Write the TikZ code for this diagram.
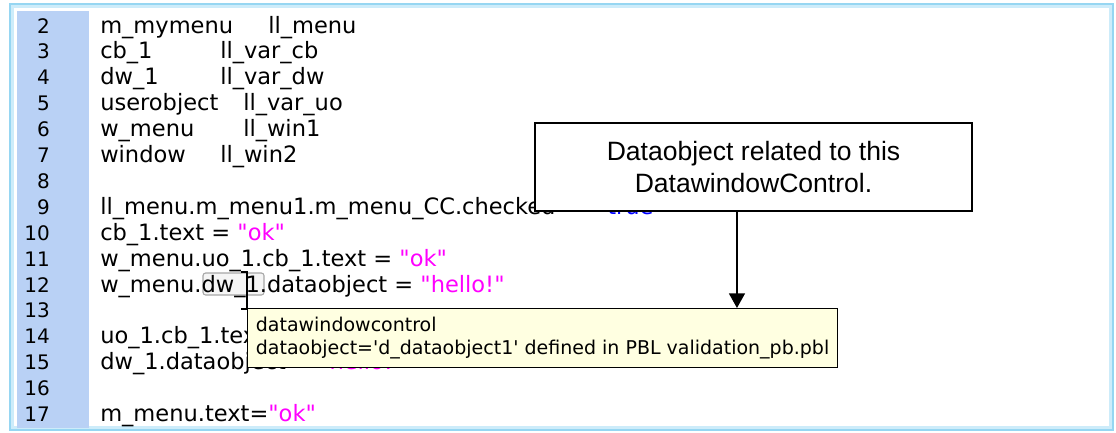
\documentclass[tikz,border=0pt]{standalone}
\usepackage{fontspec}
\setmainfont{DejaVu Sans}[Ligatures=TeXOff]
\newfontfamily\calloutfont{Liberation Sans}
\usetikzlibrary{arrows.meta}

\definecolor{frameblue}{RGB}{150,214,242}
\definecolor{frameglow}{RGB}{205,236,250}
\definecolor{gutter}{RGB}{185,209,245}
\definecolor{strmag}{RGB}{255,0,255}
\definecolor{kwblue}{RGB}{0,0,255}
\definecolor{tipfill}{RGB}{255,255,225}

% straight quotes, as typed in the editor
\newcommand{\dq}{\symbol{34}}
\newcommand{\sq}{\symbol{39}}
\newcommand{\str}[1]{\textcolor{strmag}{\dq#1\dq}}

\tikzset{
  num/.style={anchor=base east, inner sep=0pt, font=\fontsize{15}{18}\selectfont},
  code/.style={anchor=base west, inner sep=0pt, font=\fontsize{16.9}{20}\selectfont},
  tipbox/.style={draw=black, line width=0.8pt, fill=tipfill, anchor=north west,
    minimum width=442.5pt, minimum height=44.25pt, inner xsep=4.5pt, inner ysep=0pt,
    align=left, font=\fontsize{14.25}{17.25}\selectfont},
  callbox/.style={draw=black, line width=1.1pt, fill=white,
    minimum width=327.75pt, minimum height=66pt, align=center,
    font=\calloutfont\fontsize{19.9}{24}\selectfont},
  pointer/.style={line width=1.1pt, -{Triangle[width=12pt,length=11pt]}},
}

\begin{document}
\begin{tikzpicture}[x=0.75pt,y=-0.75pt]
\useasboundingbox (0,0) rectangle (1116,432);
\fill[white] (0,0) rectangle (1116,432);

% editor frame and line-number gutter
\draw[frameglow, line width=2.2pt] (12.5,6.5) rectangle (1110.5,427.5);
\draw[frameblue, line width=2.2pt] (10,4) rectangle (1113,430);
\fill[gutter] (17,11) rectangle (89,428);

% line numbers
\foreach \n in {2,...,17}
  \node[num] (n\n) at (50,{33+(\n-2)*25.9}) {\n};

% hover highlight around the identifier on line 12
\draw[rounded corners=2pt, draw=black!35, fill=black!4, line width=0.8pt]
  (203,273) rectangle (264,295);

% source lines
\node[code] (c2)  at (100,33)     {m\_mymenu};
\node[code] (c2b) at (268,33)     {ll\_menu};
\node[code] (c3)  at (100,58.9)   {cb\_1};
\node[code] (c3b) at (220,58.9)   {ll\_var\_cb};
\node[code] (c4)  at (100,84.8)   {dw\_1};
\node[code] (c4b) at (220,84.8)   {ll\_var\_dw};
\node[code] (c5)  at (100,110.7)  {userobject};
\node[code] (c5b) at (243,110.7)  {ll\_var\_uo};
\node[code] (c6)  at (100,136.6)  {w\_menu};
\node[code] (c6b) at (243,136.6)  {ll\_win1};
\node[code] (c7)  at (100,162.5)  {window};
\node[code] (c7b) at (220,162.5)  {ll\_win2};
\node[code] (c9)  at (100,214.3)  {ll\_menu.m\_menu1.m\_menu\_CC.checked};
\node[code] (c9b) at (581,214.3)  {= \textcolor{kwblue}{true}};
\node[code] (c10) at (100,240.2)  {cb\_1.text = \str{ok}};
\node[code] (c11) at (100,266.1)  {w\_menu.uo\_1.cb\_1.text = \str{ok}};
\node[code] (c12) at (100,292)    {w\_menu.dw\_1.dataobject = \str{hello!}};
\node[code] (c14) at (100,343.8)  {uo\_1.cb\_1.text};
\node[code] (c15) at (100,369.7)  {dw\_1.dataobject = \str{hello!}};
\node[code] (c17) at (100,421.5)  {m\_menu.text=\str{ok}};

% text cursor
\draw[line width=0.9pt] (241,272) -- (247,272) -- (247,309);
\draw[line width=0.9pt] (241,309) -- (252,309);

% tooltip
\node[tipbox] (tooltip) at (247,308)
  {datawindowcontrol\\dataobject=\sq d\_dataobject1\sq{} defined in PBL validation\_pb.pbl};

% callout
\node[callbox] (callout) at (753.5,167)
  {Dataobject related to this\\DatawindowControl.};
\draw[pointer] ([xshift=-12.4pt]callout.south) -- ([xshift=-12.4pt]callout.south |- tooltip.north);
\end{tikzpicture}
\end{document}
